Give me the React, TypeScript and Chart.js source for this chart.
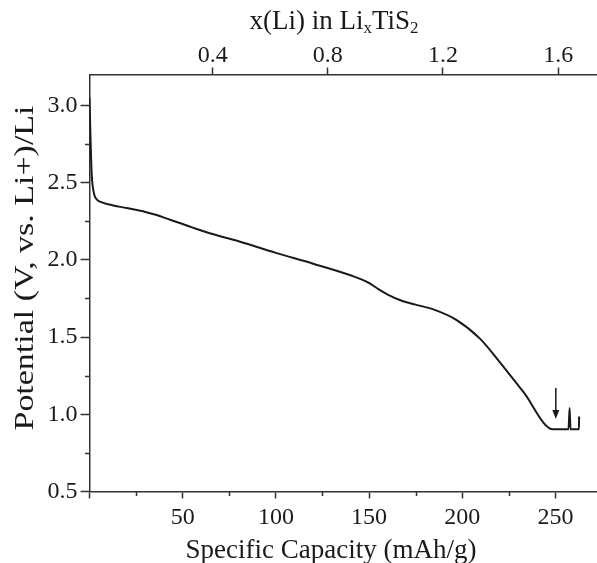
import React, { useEffect, useRef } from 'react';
import { Chart, registerables } from 'chart.js';

Chart.register(...registerables);

// Discharge curve: specific capacity (mAh/g) vs potential (V vs Li+/Li)
const capacity = [
  0, 0.3, 0.7, 1.2, 1.8, 2.6, 4, 6, 10, 20, 30, 36, 42, 48, 55, 60, 65, 80,
  100, 120, 140, 150, 155, 160, 167.5, 175, 184.5, 197, 209.5, 220, 232.7,
  248.8, 257.0, 257.6, 258.1, 262.6, 262.7,
];
const potential = [
  3.05, 2.9, 2.72, 2.55, 2.47, 2.42, 2.39, 2.375, 2.36, 2.335, 2.31, 2.29,
  2.265, 2.24, 2.21, 2.19, 2.17, 2.12, 2.045, 1.975, 1.9, 1.85, 1.81, 1.775,
  1.735, 1.71, 1.679, 1.61, 1.49, 1.34, 1.146, 0.903, 0.903, 1.04, 0.903,
  0.903, 0.985,
];

const xMajorTicks = [0, 50, 100, 150, 200, 250];
const xMinorTicks = [25, 75, 125, 175, 225];
const yMajorTicks = [0.5, 1.0, 1.5, 2.0, 2.5, 3.0];
const yMinorTicks = [0.75, 1.25, 1.75, 2.25, 2.75];
const topTicks = [0.4, 0.8, 1.2, 1.6];

// arrow marker (capacity, from potential, to potential)
const arrowCapacity = 250.2;
const arrowFrom = 1.17;
const arrowTo = 0.97;

const xTitle = 'Specific Capacity (mAh/g)';
const yTitle = 'Potential (V, vs. Li+)/Li';
const topTitleParts = [
  { t: 'x(Li) in Li', sub: false },
  { t: 'x', sub: true },
  { t: 'TiS', sub: false },
  { t: '2', sub: true },
];

const FONT = "'Liberation Serif', 'Times New Roman', serif";
const INK = '#1a1a1a';
const AXIS = '#333333';

export default function App() {
  const ref = useRef<HTMLCanvasElement | null>(null);

  useEffect(() => {
    if (!ref.current) return;

    const overlay = {
      id: 'overlay',
      afterDraw(chart: any) {
        const ctx = chart.ctx as CanvasRenderingContext2D;
        const xs = chart.scales.x;
        const ys = chart.scales.y;
        const ca = chart.chartArea;
        ctx.save();
        ctx.strokeStyle = AXIS;
        ctx.lineWidth = 1.5;
        // minor ticks
        xMinorTicks.forEach((v) => {
          const px = Math.round(xs.getPixelForValue(v)) + 0.5;
          ctx.beginPath();
          ctx.moveTo(px, ca.bottom);
          ctx.lineTo(px, ca.bottom + 4.5);
          ctx.stroke();
        });
        yMinorTicks.forEach((v) => {
          const py = Math.round(ys.getPixelForValue(v)) + 0.5;
          ctx.beginPath();
          ctx.moveTo(ca.left - 4.5, py);
          ctx.lineTo(ca.left, py);
          ctx.stroke();
        });
        // arrow
        const ax = xs.getPixelForValue(arrowCapacity);
        const ay1 = ys.getPixelForValue(arrowFrom);
        const ay2 = ys.getPixelForValue(arrowTo);
        ctx.strokeStyle = INK;
        ctx.fillStyle = INK;
        ctx.lineWidth = 1.5;
        ctx.beginPath();
        ctx.moveTo(ax, ay1);
        ctx.lineTo(ax, ay2 - 6);
        ctx.stroke();
        ctx.beginPath();
        ctx.moveTo(ax - 3.5, ay2 - 9);
        ctx.lineTo(ax + 3.5, ay2 - 9);
        ctx.lineTo(ax, ay2);
        ctx.closePath();
        ctx.fill();

        // titles
        ctx.fillStyle = INK;
        ctx.textBaseline = 'alphabetic';
        // bottom title
        ctx.font = `27px ${FONT}`;
        ctx.textAlign = 'center';
        ctx.fillText(xTitle, 331, ca.bottom + 66);
        // left title (rotated, stretched along its length like the source)
        ctx.save();
        ctx.translate(33, 268);
        ctx.rotate(-Math.PI / 2);
        ctx.font = `27px ${FONT}`;
        const w = ctx.measureText(yTitle).width;
        ctx.scale(325 / w, 1);
        ctx.textAlign = 'center';
        ctx.fillText(yTitle, 0, 0);
        ctx.restore();
        // top title with subscripts
        const mainFont = `27px ${FONT}`;
        const subFont = `17px ${FONT}`;
        let total = 0;
        topTitleParts.forEach((p) => {
          ctx.font = p.sub ? subFont : mainFont;
          total += ctx.measureText(p.t).width;
        });
        let cx = 334 - total / 2;
        const baseY = 29;
        ctx.textAlign = 'left';
        topTitleParts.forEach((p) => {
          ctx.font = p.sub ? subFont : mainFont;
          ctx.fillText(p.t, cx, p.sub ? baseY + 4 : baseY);
          cx += ctx.measureText(p.t).width;
        });
        ctx.restore();
      },
    };

    const tickFont = { family: FONT, size: 24 };

    const chart = new Chart(ref.current, {
      type: 'line',
      data: {
        datasets: [
          {
            data: capacity.map((c, i) => ({ x: c, y: potential[i] })),
            borderColor: INK,
            borderWidth: 2,
            pointRadius: 0,
            cubicInterpolationMode: 'monotone',
            fill: false,
          },
        ],
      },
      options: {
        animation: false,
        responsive: false,
        devicePixelRatio: 1,
        layout: { padding: 0 },
        plugins: {
          legend: { display: false },
          tooltip: { enabled: false },
        },
        scales: {
          x: {
            type: 'linear',
            position: 'bottom',
            min: 0,
            max: 272.3,
            afterBuildTicks: (s: any) => {
              s.ticks = xMajorTicks.map((v) => ({ value: v }));
            },
            afterFit: (s: any) => {
              s.height = 71.5;
            },
            ticks: {
              font: tickFont,
              color: INK,
              padding: 5,
              maxRotation: 0,
              autoSkip: false,
              callback: (v: any) => (v === 0 ? '' : String(v)),
            },
            grid: {
              drawOnChartArea: false,
              tickLength: 7,
              tickWidth: 1.5,
              tickColor: AXIS,
            },
            border: { display: true, color: AXIS, width: 1.5 },
          },
          x2: {
            type: 'linear',
            position: 'top',
            min: -0.028,
            max: 1.735,
            afterBuildTicks: (s: any) => {
              s.ticks = topTicks.map((v) => ({ value: v }));
            },
            afterFit: (s: any) => {
              s.height = 74.5;
            },
            ticks: {
              font: { family: FONT, size: 24, lineHeight: 1 },
              color: INK,
              padding: 0,
              maxRotation: 0,
              autoSkip: false,
              callback: (v: any) => Number(v).toFixed(1),
            },
            grid: {
              drawOnChartArea: false,
              tickLength: 7,
              tickWidth: 1.5,
              tickColor: AXIS,
            },
            border: { display: true, color: AXIS, width: 1.5 },
          },
          y: {
            type: 'linear',
            position: 'left',
            min: 0.5,
            max: 3.2,
            afterBuildTicks: (s: any) => {
              s.ticks = yMajorTicks.map((v) => ({ value: v }));
            },
            afterFit: (s: any) => {
              s.width = 89.5;
            },
            ticks: {
              font: tickFont,
              color: INK,
              padding: 3,
              autoSkip: false,
              callback: (v: any) => Number(v).toFixed(1),
            },
            grid: {
              drawOnChartArea: false,
              tickLength: 9,
              tickWidth: 1.5,
              tickColor: AXIS,
            },
            border: { display: true, color: AXIS, width: 1.5 },
          },
        },
      },
      plugins: [overlay],
    } as any);

    return () => chart.destroy();
  }, []);

  return (
    <div style={{ position: 'absolute', left: 0, top: 0, width: 597, height: 563, background: '#fff' }}>
      <canvas ref={ref} width={597} height={563} style={{ display: 'block' }} />
    </div>
  );
}
